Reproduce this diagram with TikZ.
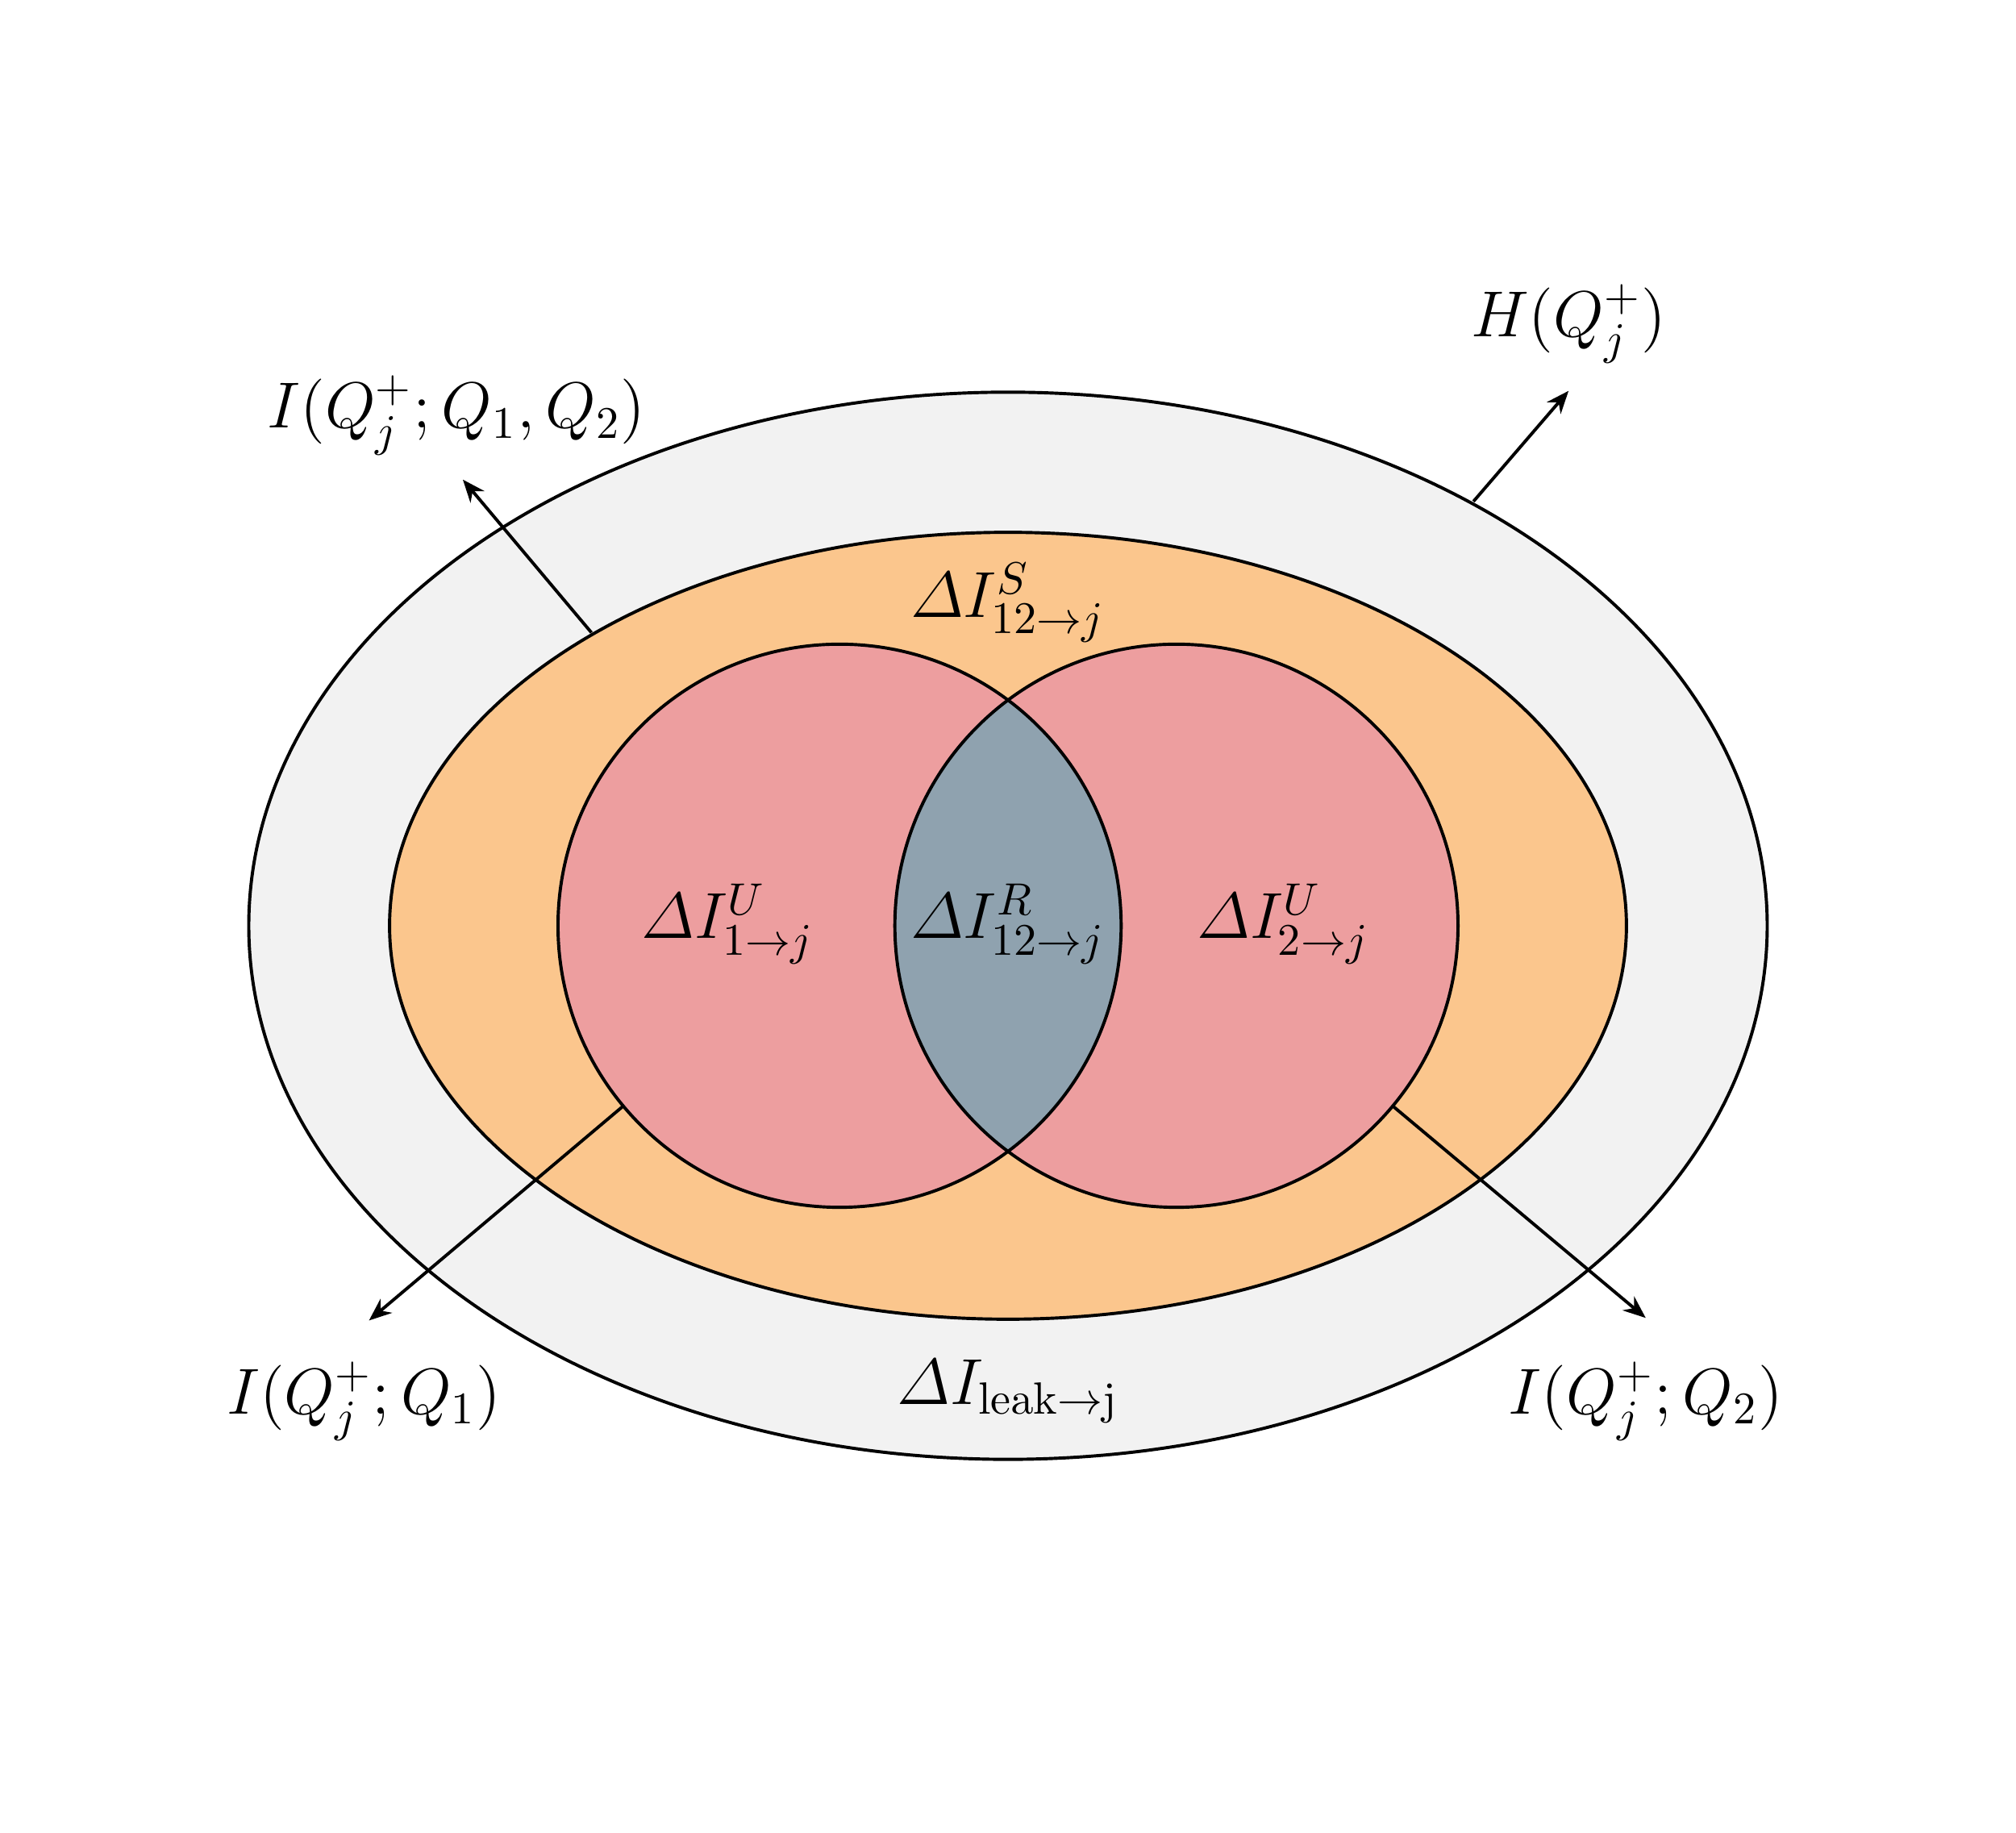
\documentclass[tikz,border=0pt]{standalone}
\usepackage{amsmath}
\usepackage{tikz}
\usetikzlibrary{arrows.meta,positioning}
\definecolor{leakgray}{RGB}{242,242,242}
\definecolor{synorange}{RGB}{251,198,141}
\definecolor{unipink}{RGB}{237,158,159}
\definecolor{redblue}{RGB}{143,162,175}

\begin{document}
\begin{tikzpicture}[font=\fontsize{14.4}{17}\selectfont, line width=0.7pt,
  lbl/.style={anchor=base, inner sep=0pt},
  pointer/.style={-{Stealth[length=5pt,width=4pt]}, line width=0.7pt}]
  \useasboundingbox (-7.84,-7.05) rectangle (7.84,7.20);
  % regions
  \draw[fill=leakgray] (0,0) ellipse [x radius=5.905, y radius=4.15];
  \draw[fill=synorange] (0,0) ellipse [x radius=4.81, y radius=3.06];
  \coordinate (c1) at (-1.31,0);
  \coordinate (c2) at (1.31,0);
  \fill[unipink] (c1) circle [radius=2.19];
  \fill[unipink] (c2) circle [radius=2.19];
  \begin{scope}
    \clip (c1) circle [radius=2.19];
    \fill[redblue] (c2) circle [radius=2.19];
  \end{scope}
  \draw (c1) circle [radius=2.19];
  \draw (c2) circle [radius=2.19];
  % inner labels
  \node[lbl] (syn) at (0,2.40) {$\varDelta I^{S}_{12\to j}$};
  \node[lbl] (uni1) at (-2.18,-0.10) {$\varDelta I^{U}_{1\to j}$};
  \node[lbl] (red) at (0,-0.10) {$\varDelta I^{R}_{12\to j}$};
  \node[lbl] (uni2) at (2.14,-0.10) {$\varDelta I^{U}_{2\to j}$};
  \node[lbl] (leak) at (0,-3.72) {$\varDelta I_{\mathrm{leak}\to\mathrm{j}}$};
  % outer labels
  \node[lbl] (mi12) at (-4.29,3.87) {$I(Q_j^{+};Q_1,Q_2)$};
  \node[lbl] (ent) at (4.36,4.58) {$H(Q_j^{+})$};
  \node[lbl] (mi1) at (-5.01,-3.80) {$I(Q_j^{+};Q_1)$};
  \node[lbl] (mi2) at (4.96,-3.80) {$I(Q_j^{+};Q_2)$};
  % pointers
  \coordinate (s12) at (-3.24,2.28);  \coordinate (e12) at (-4.24,3.47);
  \coordinate (sH) at (3.62,3.30);    \coordinate (eH) at (4.36,4.16);
  \coordinate (s1) at (-2.99,-1.40);  \coordinate (e1) at (-4.97,-3.07);
  \coordinate (s2) at (2.99,-1.40);   \coordinate (e2) at (4.96,-3.05);
  \foreach \s/\e in {s12/e12,sH/eH,s1/e1,s2/e2} \draw[pointer] (\s) -- (\e);
\end{tikzpicture}
\end{document}
